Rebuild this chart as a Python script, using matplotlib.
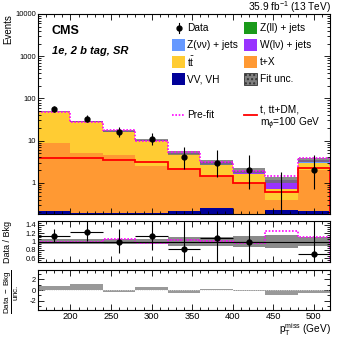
import numpy as np
import matplotlib
matplotlib.use("Agg")
import matplotlib.pyplot as plt
from matplotlib.patches import Rectangle
from matplotlib.lines import Line2D
from matplotlib.ticker import MultipleLocator, LogLocator, NullFormatter, FuncFormatter

plt.rcParams['font.family'] = ['Liberation Sans', 'DejaVu Sans']
plt.rcParams['mathtext.fontset'] = 'custom'
plt.rcParams['mathtext.rm'] = 'Liberation Sans'
plt.rcParams['mathtext.it'] = 'Liberation Sans:italic'
plt.rcParams['mathtext.bf'] = 'Liberation Sans:bold'

# binning (GeV)
edges = [160, 200, 240, 280, 320, 360, 400, 440, 480, 520]

# post-fit backgrounds, stacked bottom -> top
vv = [0.22, 0.19, 0.19, 0.19, 0.215, 0.25, 0.17, 0.23, 0.21]
tx = [8.7, 5.0, 4.3, 2.3, 2.0, 1.2, 0.83, 0.17, 1.8]
ttbar = [38.0, 22.0, 11.7, 7.2, 2.5, 1.25, 0.6, 0.3, 1.0]
zll = [0.05, 0.03, 0.02, 0.02, 0.01, 0.01, 0.01, 0.01, 0.01]
zvv = [0.3, 0.2, 0.12, 0.08, 0.06, 0.04, 0.04, 0.02, 0.05]
wlv = [1.6, 1.0, 0.7, 0.55, 0.4, 0.3, 0.3, 0.45, 0.35]
unc_rel = [0.05, 0.05, 0.06, 0.06, 0.10, 0.11, 0.14, 0.16, 0.11]
prefit_ratio = [0.99, 0.99, 1.07, 0.96, 1.04, 1.02, 0.97, 1.25, 1.12]
signal = [3.9, 3.8, 3.5, 3.15, 2.15, 1.44, 1.0, 0.61, 2.2]

# observed
data = [56, 33, 16, 11, 4, 3, 2, 0, 2]
data_lo = [7.5, 5.7, 4.0, 3.3, 1.9, 1.6, 1.3, 0.0, 1.3]
data_hi = [8.5, 6.8, 5.1, 4.4, 3.2, 2.9, 2.6, 1.84, 2.6]
ratio = [1.13, 1.23, 0.98, 1.13, 0.82, 1.08, 1.0, np.nan, 0.70]
pulls = [0.8, 1.1, -0.3, 0.5, -0.5, 0.2, -0.15, -0.9, -0.6]

edges = np.array(edges, dtype=float)
centers = 0.5 * (edges[1:] + edges[:-1])
halfw = 0.5 * np.diff(edges)

layers = [
    (vv, '#000099'),
    (tx, '#ff9933'),
    (ttbar, '#ffcc33'),
    (zll, '#1a9a1a'),
    (zvv, '#6699ff'),
    (wlv, '#9933ff'),
]

fig = plt.figure(figsize=(3.49, 3.38), dpi=100)
ax1 = fig.add_axes([0.109, 0.366, 0.837, 0.5926])
ax2 = fig.add_axes([0.109, 0.224, 0.837, 0.123])
ax3 = fig.add_axes([0.109, 0.0828, 0.837, 0.1184])

ymin = 0.18
base = np.full(len(centers), 1e-3)
for vals, col in layers:
    top = base + np.array(vals)
    ax1.stairs(top, edges, baseline=base, fill=True, color=col, lw=0)
    base = top
total = base

# fit uncertainty
unc = np.array(unc_rel)
ax1.stairs(total * (1 + unc), edges, baseline=total * (1 - unc), fill=True,
           color='#6e6e6e', alpha=0.8, lw=0)
ax1.stairs(total * np.array(prefit_ratio), edges, color='#ff00ff', lw=1.2,
           ls=(0, (1, 1)))
ax1.stairs(signal, edges, color='#ff0000', lw=1.3)

d = np.array(data, dtype=float)
ok = d > 0
ax1.errorbar(centers[ok], d[ok], yerr=[np.array(data_lo)[ok], np.array(data_hi)[ok]],
             fmt='o', color='black', ms=3.5, elinewidth=0.8, capsize=0)
for i in np.where(~ok)[0]:
    ax1.vlines(centers[i], ymin * 0.5, data_hi[i], color='black', lw=0.8)

ax1.set_yscale('log')
ax1.set_ylim(ymin, 10000)
ax1.set_xlim(edges[0], edges[-1])
ax1.yaxis.set_major_formatter(FuncFormatter(lambda v, p: '%g' % v))
ax1.yaxis.set_minor_locator(LogLocator(base=10, subs=np.arange(2, 10)))
ax1.yaxis.set_minor_formatter(NullFormatter())
ax1.tick_params(labelbottom=False)

# ratio panel
r = np.array(ratio)
ax2.stairs(1 + unc, edges, baseline=1 - unc, fill=True, color='#8a8a8a', lw=0)
ax2.axhline(1, color='black', lw=0.8)
ax2.stairs(prefit_ratio, edges, color='#ff00ff', lw=1.2, ls=(0, (1, 1)))
with np.errstate(invalid='ignore', divide='ignore'):
    r_lo = r * np.array(data_lo) / d
    r_hi = r * np.array(data_hi) / d
ax2.errorbar(centers, r, xerr=halfw, yerr=[r_lo, r_hi], fmt='o', color='black',
             ms=3.5, elinewidth=0.8, capsize=0)
ax2.set_xlim(edges[0], edges[-1])
ax2.set_ylim(0.5, 1.5)
ax2.yaxis.set_major_locator(MultipleLocator(0.2))
ax2.yaxis.set_minor_locator(MultipleLocator(0.05))
ax2.yaxis.set_major_formatter(FuncFormatter(lambda v, p: '%g' % round(v, 1)))
ax2.tick_params(labelbottom=False)

# pull panel
ax3.stairs(pulls, edges, baseline=0, fill=True, color='#999999', lw=0)
ax3.axhline(0, color='#dddddd', lw=0.6, ls=':')
ax3.set_xlim(edges[0], edges[-1])
ax3.set_ylim(-3.7, 3.7)
ax3.yaxis.set_major_locator(MultipleLocator(2))
ax3.yaxis.set_minor_locator(MultipleLocator(1))
ax3.yaxis.set_major_formatter(FuncFormatter(lambda v, p: '%d' % v))

for ax in (ax1, ax2, ax3):
    ax.xaxis.set_major_locator(MultipleLocator(50))
    ax.xaxis.set_minor_locator(MultipleLocator(10))
    ax.tick_params(which='both', direction='in', top=True, right=True, width=0.6)
    ax.tick_params(which='major', length=4)
    ax.tick_params(which='minor', length=2)
    ax.tick_params(axis='y', labelsize=5.4, pad=1.5)
    ax.tick_params(axis='x', labelsize=6.7, pad=1.5)
    for s in ax.spines.values():
        s.set_linewidth(0.8)

W, H = 349.0, 338.0
def fx(px):
    return px / W
def fy(py):
    return 1 - py / H

fig.text(fx(331), fy(7), r'35.9 fb$^{-1}$ (13 TeV)', ha='right', va='center', fontsize=7.3)
fig.text(fx(8), fy(14), 'Events', rotation=90, ha='center', va='top', fontsize=7)
fig.text(fx(52), fy(31), 'CMS', ha='left', va='center', fontsize=9, fontweight='bold')
fig.text(fx(52), fy(51), '1e, 2 b tag, SR', ha='left', va='center', fontsize=8,
         fontweight='bold', style='italic')
fig.text(fx(331), fy(330), r'p$_{\mathrm{T}}^{\mathrm{miss}}$ (GeV)', ha='right',
         va='center', fontsize=7.3)
fig.text(fx(8), fy(242), 'Data / Bkg', rotation=90, ha='center', va='center', fontsize=6.5)
fig.text(fx(12), fy(292), r'$\frac{\mathrm{Data\ -\ Bkg}}{\mathrm{unc.}}$', rotation=90,
         ha='center', va='center', fontsize=8.2)

# legend
leg_rows = [28, 45, 62, 79]
col1 = [('Data', None), ('Z(νν) + jets', '#6699ff'), (r't$\bar{\mathrm{t}}$', '#ffcc33'),
        ('VV, VH', '#000099')]
col2 = [('Z(ll) + jets', '#1a9a1a'), ('W(lν) + jets', '#9933ff'), ('t+X', '#ff9933'),
        ('Fit unc.', '#808080')]
sw, sh = 13, 12
for (lab, col), yy in zip(col1, leg_rows):
    if col is None:
        fig.add_artist(Line2D([fx(178.5)] * 2, [fy(yy - 5), fy(yy + 5)], color='black', lw=0.8))
        fig.add_artist(Line2D([fx(178.5)], [fy(yy)], marker='o', ms=3.5, color='black'))
    else:
        fig.add_artist(Rectangle((fx(172), fy(yy + sh / 2)), sw / W, sh / H,
                                 transform=fig.transFigure, color=col, lw=0))
    fig.text(fx(187), fy(yy), lab, ha='left', va='center', fontsize=7.3)
for (lab, col), yy in zip(col2, leg_rows):
    if lab == 'Fit unc.':
        fig.add_artist(Rectangle((fx(244), fy(yy + sh / 2)), sw / W, sh / H,
                                 transform=fig.transFigure, facecolor=col,
                                 edgecolor='#333333', hatch='....', lw=0.6))
    else:
        fig.add_artist(Rectangle((fx(244), fy(yy + sh / 2)), sw / W, sh / H,
                                 transform=fig.transFigure, color=col, lw=0))
    fig.text(fx(260), fy(yy), lab, ha='left', va='center', fontsize=7.3)

fig.add_artist(Line2D([fx(172), fx(185)], [fy(115)] * 2, color='#ff00ff', lw=1.2, ls=(0, (1, 1))))
fig.text(fx(187), fy(115), 'Pre-fit', ha='left', va='center', fontsize=7.3)
fig.add_artist(Line2D([fx(244), fx(257)], [fy(115)] * 2, color='#ff0000', lw=1.3))
fig.text(fx(260), fy(109), 't, tt+DM,', ha='left', va='center', fontsize=7.3)
fig.text(fx(260), fy(124), r'm$_{\phi}$=100 GeV', ha='left', va='center', fontsize=7.3)

fig.savefig('out.png', dpi=100)
